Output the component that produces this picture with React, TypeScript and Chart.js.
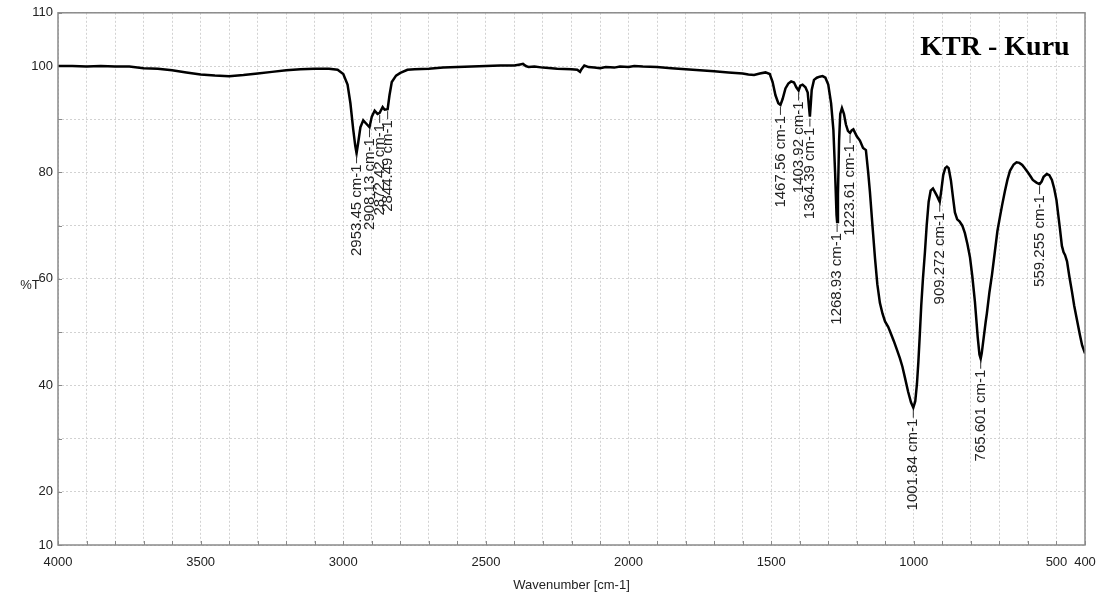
import React, { useEffect, useRef } from "react";
import { Chart, registerables } from "chart.js";

Chart.register(...registerables);

// Wavenumber (cm-1) and transmittance (%T)
const wavenumbers = [
  4000, 3950, 3900, 3850, 3800, 3750, 3700, 3650, 3600, 3550, 3500, 3450, 3400, 3350, 3300, 3250, 3200, 3150, 3100, 3050,
  3020, 3000, 2985, 2975, 2965, 2958, 2953.45, 2948, 2940, 2930, 2920, 2908.13, 2900, 2890, 2880, 2872.42, 2862, 2855, 2844.49, 2838,
  2830, 2815, 2800, 2775, 2750, 2700, 2650, 2600, 2550, 2500, 2450, 2400, 2380, 2370, 2360, 2350, 2330, 2300, 2250, 2200,
  2180, 2170, 2165, 2155, 2140, 2120, 2100, 2080, 2050, 2030, 2000, 1980, 1950, 1900, 1850, 1800, 1750, 1700, 1650, 1600,
  1580, 1560, 1540, 1520, 1505, 1495, 1485, 1475, 1467.56, 1460, 1450, 1440, 1430, 1420, 1412, 1403.92, 1398, 1390, 1380, 1372,
  1367, 1364.39, 1361, 1358, 1350, 1340, 1330, 1320, 1310, 1300, 1290, 1282, 1276, 1271, 1268.93, 1266, 1262, 1258, 1252, 1245,
  1238, 1231, 1223.61, 1218, 1212, 1200, 1189, 1178, 1168, 1160, 1154, 1145, 1136, 1128, 1119, 1110, 1101, 1090, 1084, 1070,
  1060, 1049, 1040, 1031, 1020, 1010, 1001.84, 995, 989, 984, 979, 974, 968, 961, 955, 948, 941, 933, 925, 918,
  912, 909.272, 904, 897, 890, 884, 878, 870, 862, 856, 848, 840, 830, 821, 812, 803, 795, 786, 776, 770,
  765.601, 762, 755, 748, 744, 735, 726, 716, 707, 698, 690, 681, 672, 663, 650, 640, 630, 620, 611, 600,
  590, 583, 570, 559.255, 552, 545, 534, 525, 516, 508, 500, 495, 488, 481, 475, 470, 463, 455, 446, 438,
  430, 418, 410, 400,
];

const transmittance = [
  100.0, 100.0, 99.9, 100.0, 99.9, 99.9, 99.6, 99.5, 99.2, 98.8, 98.4, 98.2, 98.1, 98.3, 98.6, 98.9, 99.2, 99.4, 99.5, 99.5,
  99.3, 98.5, 96.5, 93.0, 88.0, 85.0, 83.6, 85.5, 88.5, 89.8, 89.2, 88.5, 90.5, 91.6, 91.0, 91.2, 92.3, 91.8, 91.9, 94.5,
  97.0, 98.2, 98.7, 99.3, 99.4, 99.5, 99.7, 99.8, 99.9, 100.0, 100.1, 100.1, 100.3, 100.4, 100.0, 99.8, 99.9, 99.7, 99.5, 99.4,
  99.3, 98.9, 99.4, 100.1, 99.8, 99.7, 99.6, 99.8, 99.7, 99.9, 99.8, 100.0, 99.9, 99.8, 99.6, 99.4, 99.2, 99.0, 98.8, 98.6,
  98.4, 98.3, 98.6, 98.8, 98.5, 97.0, 94.5, 93.0, 92.7, 93.8, 95.8, 96.7, 97.1, 96.9, 96.0, 95.4, 96.3, 96.5, 96.0, 95.0,
  92.0, 90.5, 93.0, 95.5, 97.4, 97.8, 98.0, 98.1, 97.8, 96.5, 93.0, 88.0, 80.0, 72.0, 70.7, 76.0, 86.0, 91.0, 92.1, 91.0,
  89.0, 87.8, 87.4, 87.9, 88.1, 86.8, 86.0, 84.6, 84.2, 80.0, 76.4, 70.0, 63.8, 59.0, 55.5, 53.5, 52.0, 51.0, 50.2, 48.3,
  46.8, 45.1, 43.5, 41.4, 38.8, 36.8, 35.8, 37.0, 40.3, 44.5, 49.6, 55.0, 60.1, 65.1, 70.0, 74.5, 76.6, 77.0, 76.2, 75.5,
  74.8, 74.5, 76.5, 79.5, 80.8, 81.1, 80.8, 78.5, 75.0, 72.5, 71.2, 70.8, 70.0, 68.6, 66.5, 64.0, 60.5, 55.8, 49.0, 45.8,
  45.0, 46.0, 49.0, 52.0, 53.5, 57.5, 60.8, 65.1, 69.0, 71.7, 74.0, 76.4, 78.6, 80.3, 81.5, 81.9, 81.8, 81.4, 80.8, 80.0,
  79.2, 78.6, 78.1, 77.8, 78.3, 79.2, 79.7, 79.5, 78.6, 77.0, 74.8, 72.6, 69.5, 66.2, 65.0, 64.5, 63.3, 60.5, 57.7, 55.0,
  52.8, 49.5, 47.5, 46.0,
];

const peakWavenumbers = [2953.45, 2908.13, 2872.42, 2844.49, 1467.56, 1403.92, 1364.39, 1268.93, 1223.61, 1001.84, 909.272, 765.601, 559.255];
const peakLabels = [
  "2953.45 cm-1", "2908.13 cm-1", "2872.42 cm-1", "2844.49 cm-1", "1467.56 cm-1", "1403.92 cm-1", "1364.39 cm-1",
  "1268.93 cm-1", "1223.61 cm-1", "1001.84 cm-1", "909.272 cm-1", "765.601 cm-1", "559.255 cm-1",
];

const xTickLabels = [4000, 3500, 3000, 2500, 2000, 1500, 1000, 500, 400];
const yTickLabels = [110, 100, 80, 60, 40, 20, 10];

const chartTitle = "KTR - Kuru";
const xTitle = "Wavenumber [cm-1]";
const yTitle = "%T";

const SANS = "'Liberation Sans', Arial, sans-serif";

function valueAt(w: number): number {
  for (let i = 0; i < wavenumbers.length - 1; i++) {
    const a = wavenumbers[i], b = wavenumbers[i + 1];
    if (w <= a && w >= b) {
      const t = (a - w) / (a - b);
      return transmittance[i] + t * (transmittance[i + 1] - transmittance[i]);
    }
  }
  return transmittance[transmittance.length - 1];
}

const decorPlugin = {
  id: "decor",
  beforeDatasetsDraw(chart: any) {
    const { ctx, chartArea: a, scales } = chart;
    ctx.save();
    ctx.strokeStyle = "#8a8a8a";
    ctx.lineWidth = 1;
    scales.x.ticks.forEach((t: any) => {
      const px = Math.round(scales.x.getPixelForValue(t.value)) + 0.5;
      ctx.beginPath();
      ctx.moveTo(px, a.bottom);
      ctx.lineTo(px, a.bottom - 4);
      ctx.stroke();
    });
    scales.y.ticks.forEach((t: any) => {
      const py = Math.round(scales.y.getPixelForValue(t.value)) + 0.5;
      ctx.beginPath();
      ctx.moveTo(a.left, py);
      ctx.lineTo(a.left + 4, py);
      ctx.stroke();
    });
    ctx.restore();
  },
  afterDatasetsDraw(chart: any) {
    const { ctx, chartArea: a, scales } = chart;
    ctx.save();
    ctx.strokeStyle = "#8a8a8a";
    ctx.lineWidth = 1.5;
    ctx.strokeRect(a.left, a.top, a.right - a.left, a.bottom - a.top);
    ctx.fillStyle = "#222";
    ctx.strokeStyle = "#333";
    ctx.lineWidth = 1;
    ctx.font = `15px ${SANS}`;
    peakWavenumbers.forEach((w, i) => {
      const px = scales.x.getPixelForValue(w);
      const py = scales.y.getPixelForValue(valueAt(w));
      ctx.beginPath();
      ctx.moveTo(px, py + 2);
      ctx.lineTo(px, py + 10);
      ctx.stroke();
      ctx.save();
      ctx.translate(px, py + 11);
      ctx.rotate(-Math.PI / 2);
      ctx.textAlign = "right";
      ctx.textBaseline = "middle";
      ctx.fillText(peakLabels[i], 0, 0);
      ctx.restore();
    });
    ctx.fillStyle = "#000";
    ctx.font = `bold 28px 'Liberation Serif', 'Times New Roman', serif`;
    ctx.textAlign = "center";
    ctx.textBaseline = "alphabetic";
    ctx.fillText(chartTitle, 995, 55);
    ctx.fillStyle = "#222";
    ctx.font = `13px ${SANS}`;
    ctx.textAlign = "center";
    ctx.textBaseline = "middle";
    ctx.fillText(yTitle, 30, 285);
    ctx.restore();
  },
};

export default function App() {
  const canvasRef = useRef<HTMLCanvasElement | null>(null);

  useEffect(() => {
    document.body.style.margin = "0";
    const canvas = canvasRef.current;
    if (!canvas) return;
    const chart = new Chart(canvas, {
      type: "line",
      data: {
        datasets: [
          {
            data: wavenumbers.map((w, i) => ({ x: w, y: transmittance[i] })),
            borderColor: "#000",
            borderWidth: 2.5,
            pointRadius: 0,
            tension: 0,
            fill: false,
          },
        ],
      },
      options: {
        responsive: false,
        animation: false,
        devicePixelRatio: 1,
        layout: { padding: { top: 10, right: 26, left: 0, bottom: 0 } },
        plugins: { legend: { display: false }, tooltip: { enabled: false }, title: { display: false } },
        scales: {
          x: {
            type: "linear",
            reverse: true,
            min: 400,
            max: 4000,
            afterBuildTicks: (s: any) => {
              const t: any[] = [];
              for (let v = 4000; v >= 400; v -= 100) t.push({ value: v });
              s.ticks = t;
            },
            afterFit: (s: any) => {
              s.height = 53;
            },
            ticks: {
              autoSkip: false,
              maxRotation: 0,
              minRotation: 0,
              padding: 10,
              color: "#222",
              font: { family: SANS, size: 13 },
              callback: (v: any) => (xTickLabels.includes(Number(v)) ? String(v) : ""),
            },
            grid: { color: "#d2d2d2", lineWidth: 1, drawTicks: false },
            border: { display: false, dash: [2, 2] },
            title: {
              display: true,
              text: xTitle,
              color: "#222",
              font: { family: SANS, size: 13 },
              padding: { top: 0, bottom: 5 },
            },
          },
          y: {
            type: "linear",
            min: 10,
            max: 110,
            afterBuildTicks: (s: any) => {
              const t: any[] = [];
              for (let v = 10; v <= 110; v += 10) t.push({ value: v });
              s.ticks = t;
            },
            afterFit: (s: any) => {
              s.width = 58;
            },
            ticks: {
              padding: 5,
              color: "#222",
              font: { family: SANS, size: 13 },
              callback: (v: any) => (yTickLabels.includes(Number(v)) ? String(v) : ""),
            },
            grid: { color: "#d2d2d2", lineWidth: 1, drawTicks: false },
            border: { display: false, dash: [2, 2] },
          },
        },
      },
      plugins: [decorPlugin],
    });
    return () => chart.destroy();
  }, []);

  return (
    <div style={{ width: 1111, height: 598, background: "#fff" }}>
      <canvas ref={canvasRef} width={1111} height={598} />
    </div>
  );
}
